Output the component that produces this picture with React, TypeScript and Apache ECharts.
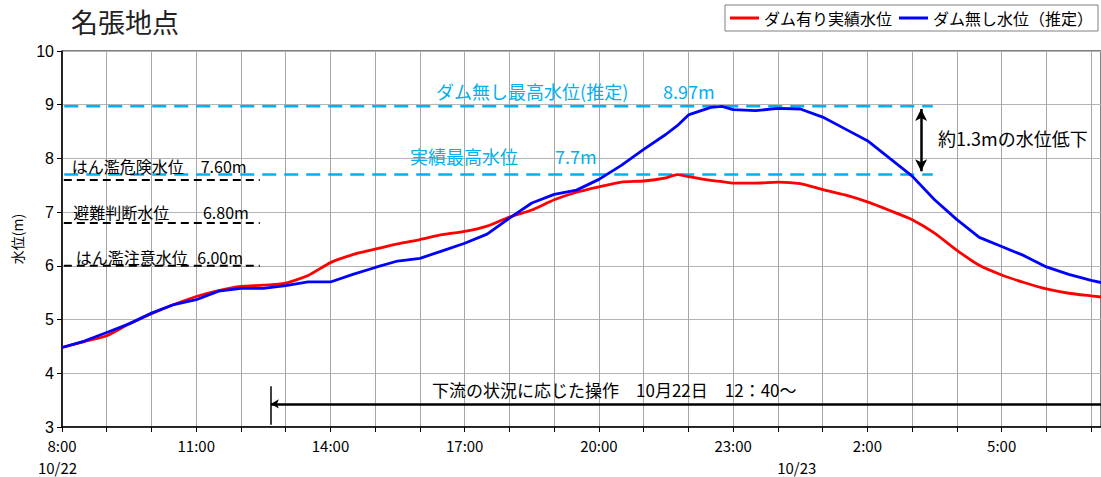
import React, { useEffect, useRef } from "react";
import * as echarts from "echarts";

// hours elapsed since 10/22 8:00
const hours = [0, 0.5, 1, 1.5, 2, 2.5, 3, 3.5, 4, 4.5, 5, 5.5, 6, 6.5, 7, 7.5, 8, 8.5, 9, 9.5, 10, 10.5, 11, 11.5, 12, 12.5, 13, 13.5, 13.75, 14, 14.5, 14.75, 15, 15.5, 16, 16.5, 17, 17.5, 18, 18.5, 19, 19.5, 20, 20.5, 21, 21.5, 22, 22.5, 23, 23.22];
const actualLevel = [4.48, 4.59, 4.70, 4.92, 5.11, 5.28, 5.43, 5.54, 5.62, 5.64, 5.68, 5.82, 6.06, 6.21, 6.31, 6.41, 6.49, 6.58, 6.64, 6.74, 6.91, 7.04, 7.23, 7.37, 7.47, 7.56, 7.58, 7.64, 7.70, 7.66, 7.59, 7.57, 7.54, 7.54, 7.56, 7.53, 7.42, 7.32, 7.19, 7.03, 6.86, 6.61, 6.29, 6.01, 5.83, 5.69, 5.57, 5.49, 5.44, 5.42];
const noDamLevel = [4.48, 4.60, 4.76, 4.92, 5.12, 5.28, 5.37, 5.53, 5.58, 5.58, 5.63, 5.70, 5.70, 5.84, 5.97, 6.09, 6.14, 6.28, 6.42, 6.59, 6.89, 7.17, 7.33, 7.41, 7.61, 7.87, 8.17, 8.45, 8.61, 8.81, 8.95, 8.97, 8.91, 8.89, 8.93, 8.92, 8.77, 8.55, 8.33, 8.00, 7.67, 7.23, 6.86, 6.53, 6.36, 6.19, 5.98, 5.84, 5.73, 5.69];

const seriesNames = ["ダム有り実績水位", "ダム無し水位（推定）"];
const startHour = 8;
const xMax = 23.22;

// peak reference lines (cyan)
const peakLevels = [8.97, 7.7];
const peakLineRange = [0.05, 19.46];
// warning levels (black)
const warnLevels = [7.6, 6.8, 6.0];
const warnLineRange = [0.04, 4.42];

// operation start 12:40
const operationHour = 4.667;
const operationArrowLevel = 3.43;
const operationBar = [3.04, 3.76];
const dropArrow = { hour: 19.2, from: 8.92, to: 7.76 };

const JP = "'Noto Sans CJK JP', 'Noto Sans', sans-serif";
const CYAN = "#00b0f0";

export default function App() {
  const ref = useRef<HTMLDivElement>(null);
  useEffect(() => {
    if (!ref.current) return;
    const chart = echarts.init(ref.current, null, { renderer: "svg" });
    const redData = hours.map((h, i) => [h, actualLevel[i]]);
    const blueData = hours.map((h, i) => [h, noDamLevel[i]]);
    const refSeries: any[] = [];
    peakLevels.forEach((v) => {
      refSeries.push({
        type: "line",
        data: [[peakLineRange[0], v], [peakLineRange[1], v]],
        symbol: "none",
        silent: true,
        lineStyle: { color: CYAN, width: 2.5, type: [14, 8] },
        z: 1,
      });
    });
    warnLevels.forEach((v) => {
      refSeries.push({
        type: "line",
        data: [[warnLineRange[0], v], [warnLineRange[1], v]],
        symbol: "none",
        silent: true,
        lineStyle: { color: "#000", width: 2, type: [8, 5] },
        z: 1,
      });
    });

    chart.setOption({
      animation: false,
      title: {
        text: "名張地点",
        left: 66,
        top: 3,
        textStyle: { fontFamily: JP, fontSize: 27, fontWeight: "normal", color: "#222" },
      },
      legend: {
        data: seriesNames,
        orient: "horizontal",
        right: 3,
        top: 5,
        padding: [5, 5],
        borderColor: "#808080",
        borderWidth: 1,
        itemGap: 7,
        icon: "rect",
        itemWidth: 29,
        itemHeight: 3,
        textStyle: { fontFamily: JP, fontSize: 16, color: "#000" },
      },
      grid: { left: 62, top: 51, right: 0, bottom: 50, show: true, borderColor: "#000", borderWidth: 1 },
      xAxis: {
        type: "value",
        min: 0,
        max: xMax,
        interval: 1,
        axisLine: { lineStyle: { color: "#000", width: 1.5 } },
        axisTick: { show: true, length: 5, lineStyle: { color: "#000" } },
        splitLine: { show: true, lineStyle: { color: "#a6a6a6", width: 1 } },
        axisLabel: {
          showMaxLabel: false,
          margin: 11,
          fontFamily: JP,
          fontSize: 15,
          color: "#000",
          formatter: (v: number) =>
            Number.isInteger(v) && v % 3 === 0 ? `${(startHour + v) % 24}:00` : "",
        },
      },
      yAxis: {
        type: "value",
        min: 3,
        max: 10,
        interval: 1,
        name: "水位(m)",
        nameLocation: "middle",
        nameGap: 38,
        nameRotate: 90,
        nameTextStyle: { fontFamily: JP, fontSize: 14, color: "#000" },
        axisLine: { show: true, lineStyle: { color: "#000", width: 1.5 } },
        axisTick: { show: true, length: 5, lineStyle: { color: "#000" } },
        splitLine: { show: true, lineStyle: { color: "#b4b4b4", width: 1 } },
        axisLabel: { margin: 8, fontFamily: "'Liberation Sans', Arial, sans-serif", fontSize: 16, color: "#000" },
      },
      series: [
        ...refSeries,
        {
          name: seriesNames[0],
          type: "line",
          data: redData,
          symbol: "none",
          smooth: 0.2,
          lineStyle: { color: "#ff0000", width: 2.8 },
          itemStyle: { color: "#ff0000" },
          z: 3,
          markLine: {
            silent: true,
            label: { show: false },
            data: [
              [
                { coord: [dropArrow.hour, dropArrow.from], symbol: "arrow", symbolSize: [9, 12] },
                { coord: [dropArrow.hour, dropArrow.to], symbol: "arrow", symbolSize: [9, 12] },
              ],
              [
                { coord: [operationHour, operationArrowLevel], symbol: "arrow", symbolSize: [7, 8] },
                { coord: [xMax, operationArrowLevel], symbol: "none" },
              ],
              [
                { coord: [operationHour, operationBar[0]], symbol: "none" },
                { coord: [operationHour, operationBar[1]], symbol: "none", lineStyle: { width: 1.5 } },
              ],
            ],
            lineStyle: { color: "#000", width: 2.5, type: "solid" },
          },
        },
        {
          name: seriesNames[1],
          type: "line",
          data: blueData,
          symbol: "none",
          lineStyle: { color: "#0000ff", width: 2.8 },
          itemStyle: { color: "#0000ff" },
          z: 4,
        },
      ],
    });

    const px = (x: number, y: number) => chart.convertToPixel({ gridIndex: 0 }, [x, y]) as number[];
    const txt = (x: number, y: number, text: string, fill: string, fontSize: number, align = "left", extra: any = {}) => {
      const p = px(x, y);
      return {
        type: "text",
        x: p[0],
        y: p[1],
        silent: true,
        z: 10,
        style: { text, fill, fontSize, fontFamily: JP, align, verticalAlign: "middle", ...extra },
      };
    };
    chart.setOption({
      graphic: [
        txt(8.36, 9.255, "ダム無し最高水位(推定)", CYAN, 18),
        txt(13.43, 9.255, "8.97m", CYAN, 18),
        txt(7.78, 8.045, "実績最高水位", CYAN, 18),
        txt(11.02, 8.045, "7.7m", CYAN, 18),
        txt(0.22, 7.86, "はん濫危険水位", "#000", 16),
        txt(3.1, 7.86, "7.60m", "#000", 16),
        txt(0.25, 7.0, "避難判断水位", "#000", 16),
        txt(3.15, 7.0, "6.80m", "#000", 16),
        txt(0.31, 6.16, "はん濫注意水位", "#000", 16),
        txt(3.02, 6.16, "6.00m", "#000", 16),
        txt(19.58, 8.38, "約1.3mの水位低下", "#000", 18),
        txt(8.27, 3.69, "下流の状況に応じた操作　10月22日　12：40～", "#000", 17),
        txt(-0.1, 2.25, "10/22", "#000", 15, "center"),
        txt(16.42, 2.25, "10/23", "#000", 15, "center"),
      ],
    });
    return () => chart.dispose();
  }, []);
  return (
    <div
      ref={ref}
      style={{ position: "absolute", left: 0, top: 0, width: 1101, height: 477, background: "#fff" }}
    />
  );
}
